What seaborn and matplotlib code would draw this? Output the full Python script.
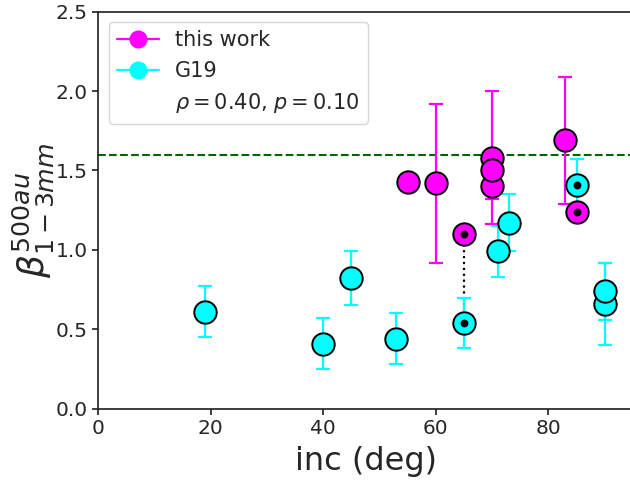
import numpy as np
import pandas as pd
import matplotlib
matplotlib.use("Agg")
import matplotlib.pyplot as plt
from matplotlib.lines import Line2D
import seaborn as sns

# --- this work (magenta) ---
tw_inc = [55, 60, 70, 70, 70, 83, 65, 85]
tw_beta = [1.43, 1.42, 1.40, 1.58, 1.50, 1.69, 1.10, 1.24]
tw_err = [np.nan, 0.50, 0.08, 0.42, 0.05, 0.40, np.nan, np.nan]
tw_flag = [False, False, False, False, False, False, True, True]

# --- G19 (cyan) ---
g_inc = [19, 40, 45, 53, 65, 71, 73, 85, 90, 90]
g_beta = [0.61, 0.41, 0.82, 0.44, 0.54, 0.99, 1.17, 1.41, 0.66, 0.74]
g_err = [0.16, 0.16, 0.17, 0.16, 0.16, 0.16, 0.18, 0.16, 0.26, 0.18]
g_flag = [False, False, False, False, True, False, False, True, False, False]

beta_ref = 1.60
stat_label = r"$\rho=0.40$, $p=0.10$"

df = pd.concat([
    pd.DataFrame({"inc": g_inc, "beta": g_beta, "err": g_err,
                  "flag": g_flag, "set": "G19"}),
    pd.DataFrame({"inc": tw_inc, "beta": tw_beta, "err": tw_err,
                  "flag": tw_flag, "set": "this work"}),
], ignore_index=True)

colors = {"this work": "magenta", "G19": "cyan"}

sns.set_theme(style="ticks")
plt.rcParams["font.family"] = ["DejaVu Sans"]

fig = plt.figure(figsize=(6.3, 4.83), dpi=100)
ax = fig.add_axes([0.1559, 0.1538, 0.8486, 0.822])

for name in ["G19", "this work"]:
    sub = df[df["set"] == name]
    c = colors[name]
    ax.errorbar(sub["inc"], sub["beta"], yerr=sub["err"], fmt="none",
                ecolor=c, elinewidth=1.6, capsize=5, capthick=1.6, zorder=2)
    sns.scatterplot(data=sub, x="inc", y="beta", color=c, s=260,
                    edgecolor="black", linewidth=1.4, ax=ax, zorder=3,
                    legend=False)
    flagged = sub[sub["flag"]]
    sns.scatterplot(data=flagged, x="inc", y="beta", color="black", s=32,
                    edgecolor="black", linewidth=0, ax=ax, zorder=4,
                    legend=False)

# dotted link between the two measurements of the same source
pair = df[(df["inc"] == 65) & df["flag"]]
ax.plot(pair["inc"], pair["beta"], ls=":", color="black", lw=1.6, zorder=1)

ax.axhline(beta_ref, color="darkgreen", ls="--", lw=1.5, zorder=1)

ax.set_xlim(0, 95)
ax.set_ylim(0, 2.5)
ax.set_xticks([0, 20, 40, 60, 80])
ax.set_yticks([0.0, 0.5, 1.0, 1.5, 2.0, 2.5])
ax.tick_params(labelsize=14.5, length=4)
ax.set_xlabel("inc (deg)", fontsize=23, labelpad=6)
ax.set_ylabel(r"$\beta^{500au}_{1-3mm}$", fontsize=26, labelpad=0)

handles = [
    Line2D([], [], color="magenta", marker="o", markersize=12, lw=1.6),
    Line2D([], [], color="cyan", marker="o", markersize=12, lw=1.6),
    Line2D([], [], color="none"),
]
ax.legend(handles, ["this work", "G19", stat_label], loc="upper left",
          fontsize=15, handlelength=2.0, frameon=True)

fig.savefig("out.png", dpi=100)
